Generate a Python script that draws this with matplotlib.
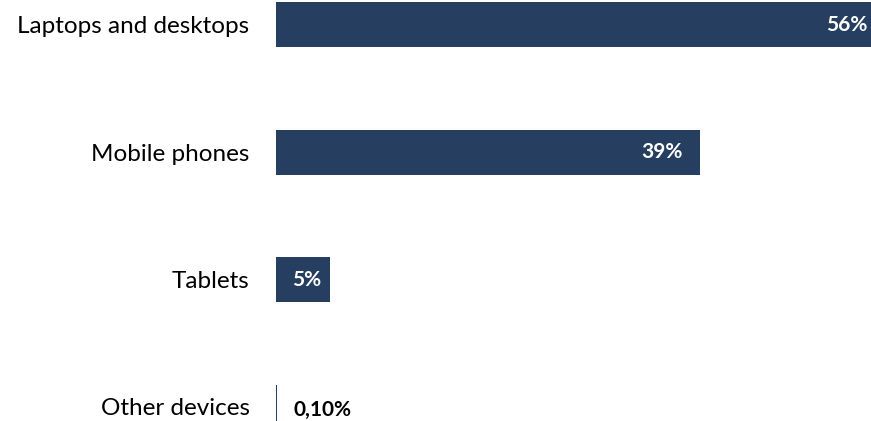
import matplotlib
matplotlib.use("Agg")
import matplotlib.pyplot as plt

categories = ["Laptops and desktops", "Mobile phones", "Tablets", "Other devices"]
shares = [56, 39, 5, 0.1]
value_labels = ["56%", "39%", "5%", "0,10%"]

plt.rcParams['font.family'] = ['Lato', 'DejaVu Sans']

W, H, DPI = 871, 421, 100
fig = plt.figure(figsize=(W / DPI, H / DPI), dpi=DPI, facecolor="white")

# axes start at x=276px, 1% ~ 10.87px, so the biggest bar runs past the right edge
px_per_unit = 10.87
left_px = 276
ax = fig.add_axes([left_px / W, 0, (56 * px_per_unit) / W, 1])

bar_color = "#263F60"
ypos = list(range(len(categories)))
bars = ax.barh(ypos, shares, height=0.353, color=bar_color, linewidth=0)

ax.set_xlim(0, 56)
ax.set_ylim(3.11, -0.196)

ax.set_yticks(ypos)
ax.set_yticklabels(categories, fontsize=17.5, color="black")
ax.tick_params(axis="y", length=0, pad=19)
ax.set_xticks([])
for s in ax.spines.values():
    s.set_visible(False)

for i, (val, lbl) in enumerate(zip(shares, value_labels)):
    bar_px = val * px_per_unit
    if bar_px > 40:
        off = -17 if bar_px > 100 else -9
        ax.annotate(lbl, (val, ypos[i]), xytext=(off * 0.72, 0),
                    textcoords="offset points", ha="right", va="center",
                    color="white", fontweight="bold", fontsize=15)
    else:
        ax.annotate(lbl, (val, ypos[i] + 0.02), xytext=(16 * 0.72, 0),
                    textcoords="offset points", ha="left", va="center",
                    color="black", fontweight="bold", fontsize=15)

fig.savefig("out.png", dpi=DPI, facecolor="white")
plt.close(fig)
